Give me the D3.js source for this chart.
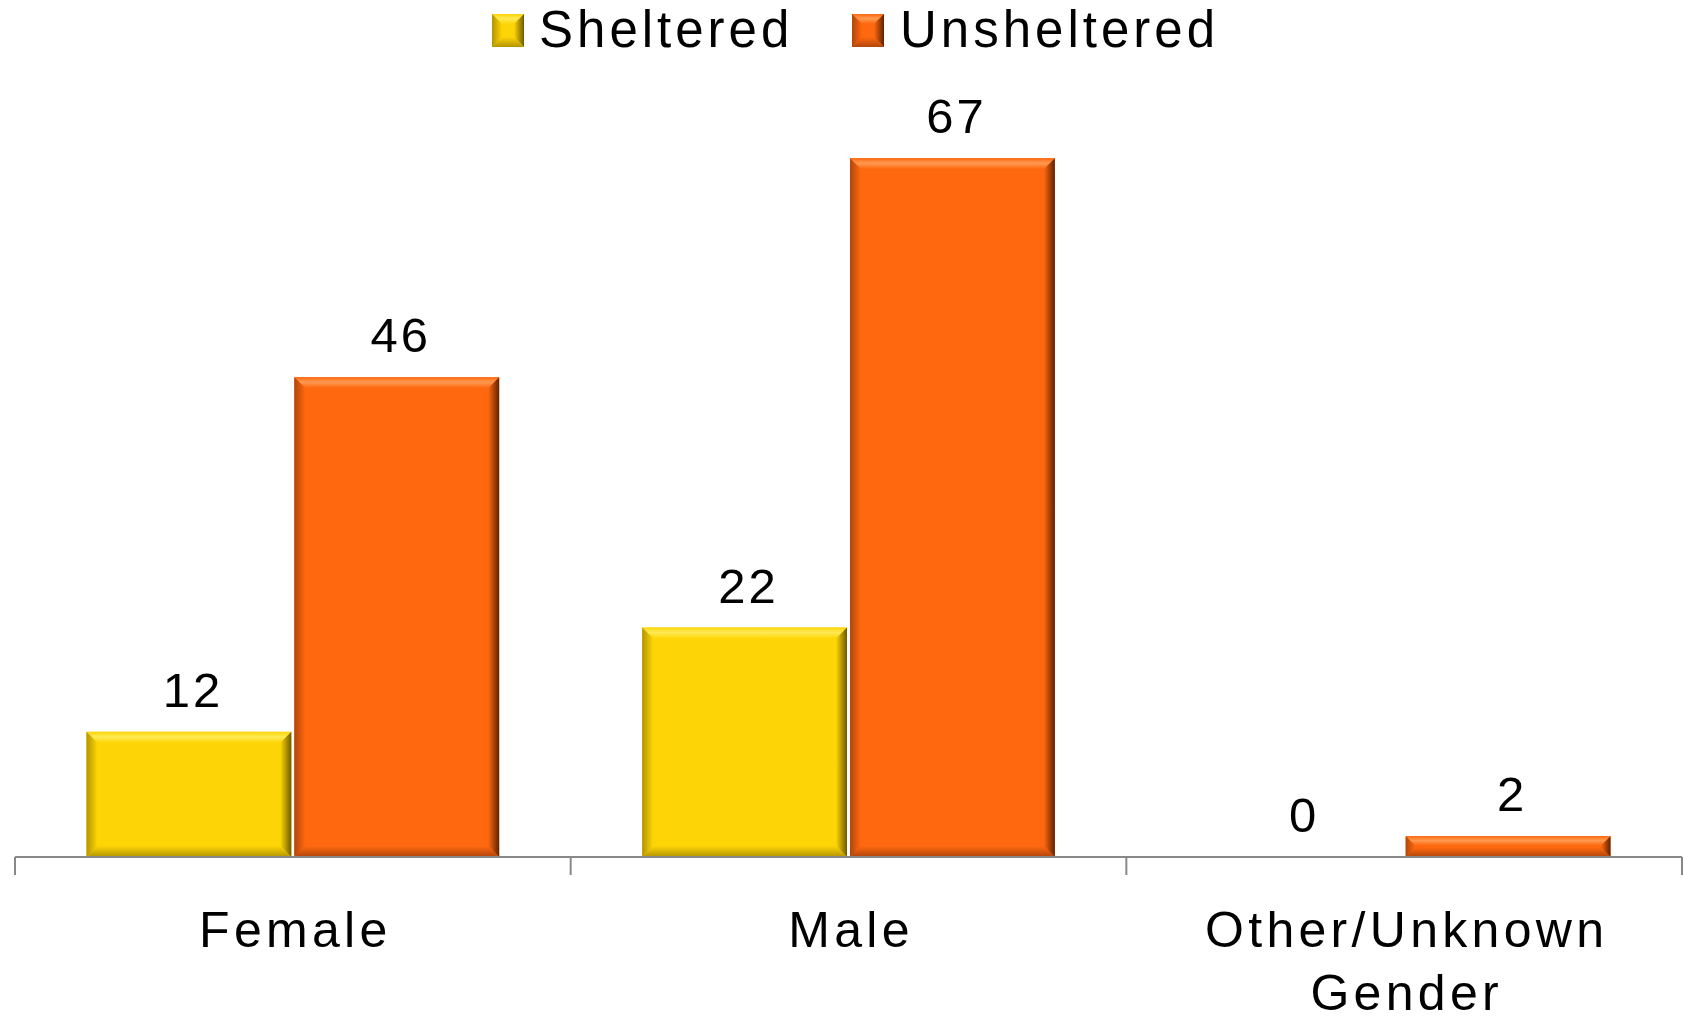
<!DOCTYPE html>
<html><head><meta charset="utf-8">
<script src="https://cdn.jsdelivr.net/npm/d3@7"></script>
<style>
html,body{margin:0;padding:0;background:#fff;}
svg{display:block;font-family:"Liberation Sans",Arial,sans-serif;}
</style></head>
<body>
<svg id="chart" width="1684" height="1020"></svg>
<script>
const categories = ["Female", "Male", "Other/Unknown Gender"];
const categoryLines = [["Female"], ["Male"], ["Other/Unknown", "Gender"]];
const seriesNames = ["Sheltered", "Unsheltered"];
const sheltered = [12, 22, 0];
const unsheltered = [46, 67, 2];

const palette = {
  Sheltered: {key:"sh", base:"#FDD507", light:"#FFEA55", dark:"#6E5A00", mid:"#B39400"},
  Unsheltered: {key:"un", base:"#FF680F", light:"#FF9A50", dark:"#5E2203", mid:"#B0460C"}
};

const W = 1684, H = 1020;
const svg = d3.select("#chart");
const defs = svg.append("defs");
const axisY = 857, plotLeft = 15, plotRight = 1682;

function grad(id, x1, y1, x2, y2, stops) {
  const g = defs.append("linearGradient").attr("id", id)
    .attr("x1", x1).attr("y1", y1).attr("x2", x2).attr("y2", y2);
  stops.forEach(s => g.append("stop").attr("offset", s[0]).attr("stop-color", s[1]));
}
Object.values(palette).forEach(c => {
  grad(c.key + "-top", 0, 0, 0, 1, [[0, c.base], [0.45, c.light], [1, c.base]]);
  grad(c.key + "-left", 0, 0, 1, 0, [[0, c.mid], [1, c.base]]);
  grad(c.key + "-right", 0, 0, 1, 0, [[0, c.base], [1, c.dark]]);
  grad(c.key + "-bottom", 0, 0, 0, 1, [[0, c.base], [1, c.mid]]);
});

const y = d3.scaleLinear().domain([0, 80]).range([axisY, axisY - 80 * 10.43]);
const x0 = d3.scaleBand().domain(categories).range([plotLeft, plotRight]).padding(0);
const x1 = d3.scaleBand().domain(seriesNames).range([0, x0.bandwidth()])
  .paddingInner(0.0144).paddingOuter(0.344);

const data = categories.map((c, i) => ({
  cat: c,
  values: [
    {s: "Sheltered", v: sheltered[i]},
    {s: "Unsheltered", v: unsheltered[i]}
  ]
}));

function bevelRect(g, x, yTop, w, h, col, bw) {
  if (h <= 0) return;
  const b = Math.min(bw, h / 2.2, w / 2.2);
  g.append("rect").attr("x", x).attr("y", yTop).attr("width", w).attr("height", h).attr("fill", col.base);
  const x2 = x + w, y2 = yTop + h;
  const poly = (pts, fill) => g.append("polygon").attr("points", pts.map(p => p.join(",")).join(" ")).attr("fill", fill);
  poly([[x, yTop], [x2, yTop], [x2 - b, yTop + b], [x + b, yTop + b]], `url(#${col.key}-top)`);
  poly([[x, yTop], [x + b, yTop + b], [x + b, y2 - b], [x, y2]], `url(#${col.key}-left)`);
  poly([[x2, yTop], [x2, y2], [x2 - b, y2 - b], [x2 - b, yTop + b]], `url(#${col.key}-right)`);
  poly([[x, y2], [x + b, y2 - b], [x2 - b, y2 - b], [x2, y2]], `url(#${col.key}-bottom)`);
}

// bars
const groups = svg.append("g").selectAll("g").data(data).join("g")
  .attr("transform", d => `translate(${x0(d.cat)},0)`);

groups.each(function(d) {
  const g = d3.select(this);
  d.values.forEach(e => {
    const bx = x1(e.s), bw = x1.bandwidth();
    const top = y(e.v), h = y(0) - y(e.v);
    bevelRect(g, bx, top, bw, h, palette[e.s], 11);
    g.append("text")
      .attr("x", bx + bw / 2 + 4)
      .attr("y", top - 25)
      .attr("text-anchor", "middle")
      .attr("font-size", 49)
      .attr("letter-spacing", 3)
      .attr("fill", "#000")
      .text(e.v);
  });
});

// axis
svg.append("line").attr("x1", plotLeft).attr("x2", plotRight).attr("y1", axisY).attr("y2", axisY)
  .attr("stroke", "#888").attr("stroke-width", 2);
const tickPos = categories.map(c => x0(c)).concat([x0(categories[categories.length - 1]) + x0.bandwidth()]);
svg.append("g").selectAll("line").data(tickPos).join("line")
  .attr("x1", d => d).attr("x2", d => d).attr("y1", axisY).attr("y2", axisY + 18)
  .attr("stroke", "#888").attr("stroke-width", 2);

// category labels
categories.forEach((c, i) => {
  const cx = x0(c) + x0.bandwidth() / 2 + 2.5;
  const t = svg.append("text")
    .attr("x", cx)
    .attr("y", 947)
    .attr("text-anchor", "middle")
    .attr("font-size", 50)
    .attr("letter-spacing", 4.3)
    .attr("fill", "#000");
  categoryLines[i].forEach((ln, k) => {
    t.append("tspan").attr("x", cx).attr("dy", k === 0 ? 0 : 63).text(ln);
  });
});

// legend
const legendItems = [
  {s: "Sheltered", sx: 492, tx: 539},
  {s: "Unsheltered", sx: 852, tx: 900}
];
const lg = svg.append("g");
legendItems.forEach(it => {
  const g = lg.append("g");
  bevelRect(g, it.sx, 14, 32, 33, palette[it.s], 10);
  lg.append("text").attr("x", it.tx).attr("y", 47)
    .attr("font-size", 51).attr("letter-spacing", 4).attr("fill", "#000").text(it.s);
});
</script>
</body></html>
